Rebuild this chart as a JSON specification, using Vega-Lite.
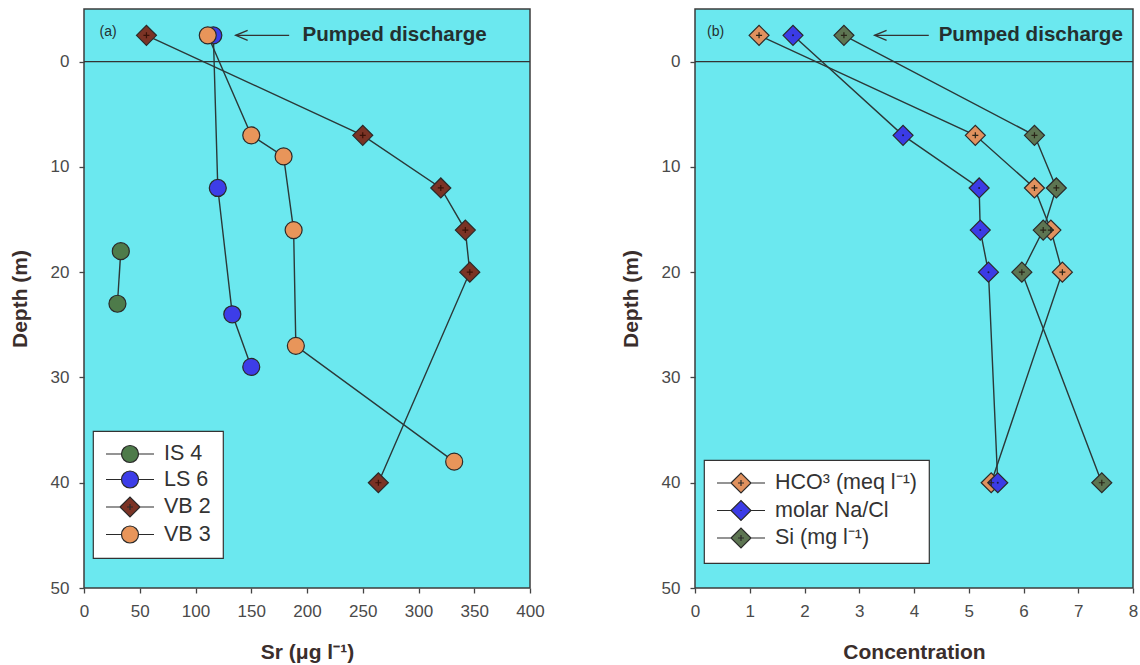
{
  "$schema": "https://vega.github.io/schema/vega-lite/v6.json",
  "background": "white",
  "padding": {"left": 8, "top": 8, "right": 4, "bottom": 4},
  "spacing": 74,
  "resolve": {"scale": {"color": "independent", "shape": "independent", "x": "independent", "y": "independent"}, "legend": {"color": "independent", "shape": "independent"}},
  "config": {
    "font": "Liberation Sans",
    "view": {"fill": "#6be8ef", "stroke": "#3c3c3c", "strokeWidth": 1.5},
    "axis": {
      "grid": false, "domain": false,
      "tickColor": "#444", "tickSize": 5, "tickWidth": 1.3,
      "labelFont": "Liberation Sans", "labelFontSize": 17, "labelColor": "#4a4a4a",
      "titleFont": "Liberation Sans", "titleFontSize": 21, "titleFontWeight": "bold", "titleColor": "#3a2e2c"
    },
    "axisX": {"labelPadding": 10, "titlePadding": 22, "labelFlush": false},
    "axisY": {"labelPadding": 10, "titlePadding": 20},
    "legend": {
      "fillColor": "white", "strokeColor": "#333", "strokeWidth": 1.2, "padding": 12,
      "symbolSize": 400, "symbolOffset": 14, "labelOffset": 23,
      "labelFont": "Liberation Sans", "labelFontSize": 21.5, "labelColor": "#333",
      "symbolStrokeWidth": 1.2, "symbolStrokeColor": "#2a2a2a"
    }
  },
  "datasets": {
    "a": [
      {"series": "IS 4", "value": 33, "depth": 18},
      {"series": "IS 4", "value": 30, "depth": 23},
      {"series": "LS 6", "value": 116, "depth": -2.5},
      {"series": "LS 6", "value": 120, "depth": 12},
      {"series": "LS 6", "value": 133, "depth": 24},
      {"series": "LS 6", "value": 150, "depth": 29},
      {"series": "VB 2", "value": 56, "depth": -2.5},
      {"series": "VB 2", "value": 250, "depth": 7},
      {"series": "VB 2", "value": 320, "depth": 12},
      {"series": "VB 2", "value": 342, "depth": 16},
      {"series": "VB 2", "value": 346, "depth": 20},
      {"series": "VB 2", "value": 264, "depth": 40},
      {"series": "VB 3", "value": 111, "depth": -2.5},
      {"series": "VB 3", "value": 150, "depth": 7},
      {"series": "VB 3", "value": 179, "depth": 9},
      {"series": "VB 3", "value": 188, "depth": 16},
      {"series": "VB 3", "value": 190, "depth": 27},
      {"series": "VB 3", "value": 332, "depth": 38}
    ],
    "b": [
      {"series": "HCO³ (meq l⁻¹)", "value": 1.17, "depth": -2.5},
      {"series": "HCO³ (meq l⁻¹)", "value": 5.12, "depth": 7},
      {"series": "HCO³ (meq l⁻¹)", "value": 6.2, "depth": 12},
      {"series": "HCO³ (meq l⁻¹)", "value": 6.5, "depth": 16},
      {"series": "HCO³ (meq l⁻¹)", "value": 6.71, "depth": 20},
      {"series": "HCO³ (meq l⁻¹)", "value": 5.41, "depth": 40},
      {"series": "molar Na/Cl", "value": 1.79, "depth": -2.5},
      {"series": "molar Na/Cl", "value": 3.8, "depth": 7},
      {"series": "molar Na/Cl", "value": 5.19, "depth": 12},
      {"series": "molar Na/Cl", "value": 5.21, "depth": 16},
      {"series": "molar Na/Cl", "value": 5.36, "depth": 20},
      {"series": "molar Na/Cl", "value": 5.53, "depth": 40},
      {"series": "Si (mg l⁻¹)", "value": 2.72, "depth": -2.5},
      {"series": "Si (mg l⁻¹)", "value": 6.2, "depth": 7},
      {"series": "Si (mg l⁻¹)", "value": 6.6, "depth": 12},
      {"series": "Si (mg l⁻¹)", "value": 6.36, "depth": 16},
      {"series": "Si (mg l⁻¹)", "value": 5.97, "depth": 20},
      {"series": "Si (mg l⁻¹)", "value": 7.43, "depth": 40}
    ]
  },
  "hconcat": [
    {
      "width": 446, "height": 579,
      "resolve": {"scale": {"color": "independent", "shape": "independent"}, "legend": {"color": "independent", "shape": "independent"}},
      "layer": [
        {
          "data": {"values": [{"depth": 0}]},
          "mark": {"type": "rule", "color": "#333", "strokeWidth": 1.3},
          "encoding": {
            "y": {"field": "depth", "type": "quantitative", "scale": {"domain": [-5, 50], "reverse": true, "nice": false, "zero": false}, "axis": {"values": [0, 10, 20, 30, 40, 50], "title": "Depth (m)"}}
          }
        },
        {
          "data": {"name": "a"},
          "mark": {"type": "line", "color": "#2b3838", "strokeWidth": 1.4},
          "encoding": {
            "x": {"field": "value", "type": "quantitative", "scale": {"domain": [0, 400], "nice": false, "zero": false}, "axis": {"values": [0, 50, 100, 150, 200, 250, 300, 350, 400], "title": "Sr (μg l⁻¹)"}},
            "y": {"field": "depth", "type": "quantitative"},
            "detail": {"field": "series"},
            "order": {"field": "depth", "type": "quantitative"}
          }
        },
        {
          "data": {"name": "a"},
          "mark": {"type": "point", "filled": true, "opacity": 1, "size": 400, "stroke": "#2a2a2a", "strokeWidth": 1.2},
          "encoding": {
            "x": {"field": "value", "type": "quantitative"},
            "y": {"field": "depth", "type": "quantitative"},
            "color": {
              "field": "series", "type": "nominal",
              "scale": {"domain": ["IS 4", "LS 6", "VB 2", "VB 3"], "range": ["#4e7b4a", "#3d3de8", "#7b3325", "#e8955a"]},
              "legend": null
            },
            "shape": {
              "field": "series", "type": "nominal",
              "scale": {"domain": ["IS 4", "LS 6", "VB 2", "VB 3"], "range": ["M0.85,0A0.85,0.85 0 1,1 -0.85,0A0.85,0.85 0 1,1 0.85,0Z", "M0.85,0A0.85,0.85 0 1,1 -0.85,0A0.85,0.85 0 1,1 0.85,0Z", "diamond", "M0.85,0A0.85,0.85 0 1,1 -0.85,0A0.85,0.85 0 1,1 0.85,0Z"]},
              "legend": null
            }
          }
        },
        {
          "data": {"name": "a"},
          "transform": [{"filter": "datum.depth > 1000"}],
          "mark": {"type": "point", "filled": true, "opacity": 1, "size": 400, "stroke": "#2a2a2a", "strokeWidth": 1.2},
          "encoding": {
            "x": {"field": "value", "type": "quantitative"},
            "y": {"field": "depth", "type": "quantitative"},
            "color": {
              "field": "series", "type": "nominal",
              "scale": {"domain": ["IS 4", "LS 6", "VB 2", "VB 3"], "range": ["#4e7b4a", "#3d3de8", "#7b3325", "#e8955a"]},
              "legend": {"orient": "none", "legendX": 9, "legendY": 422, "title": null, "rowPadding": 3.5}
            },
            "shape": {
              "field": "series", "type": "nominal",
              "scale": {"domain": ["IS 4", "LS 6", "VB 2", "VB 3"], "range": [
                "M-2.4,0L-0.85,0M0.85,0L2.4,0M0.85,0A0.85,0.85 0 1,1 -0.85,0A0.85,0.85 0 1,1 0.85,0Z",
                "M-2.4,0L-0.85,0M0.85,0L2.4,0M0.85,0A0.85,0.85 0 1,1 -0.85,0A0.85,0.85 0 1,1 0.85,0Z",
                "M-2.4,0L-1,0M1,0L2.4,0M-1,0L0,-1L1,0L0,1ZM-0.3,0L0.3,0M0,-0.3L0,0.3",
                "M-2.4,0L-0.85,0M0.85,0L2.4,0M0.85,0A0.85,0.85 0 1,1 -0.85,0A0.85,0.85 0 1,1 0.85,0Z"
              ]},
              "legend": {"orient": "none", "legendX": 9, "legendY": 422, "title": null, "rowPadding": 3.5}
            }
          }
        },
        {
          "data": {"name": "a"},
          "transform": [{"filter": "datum.series === 'VB 2'"}],
          "mark": {"type": "point", "shape": "M-1,0L1,0M0,-1L0,1", "size": 36, "filled": false, "stroke": "#3a1208", "strokeWidth": 1.2, "opacity": 1},
          "encoding": {
            "x": {"field": "value", "type": "quantitative"},
            "y": {"field": "depth", "type": "quantitative"}
          }
        },
        {
          "data": {"values": [{"tip": 136, "tail": 184, "depth": -2.5}]},
          "mark": {"type": "rule", "color": "#333", "strokeWidth": 1.3},
          "encoding": {
            "x": {"field": "tip", "type": "quantitative"},
            "x2": {"field": "tail"},
            "y": {"field": "depth", "type": "quantitative"}
          }
        },
        {
          "data": {"values": [{"tip": 136, "depth": -2.5}]},
          "mark": {"type": "point", "shape": "M3,-1.25L0,0L3,1.25", "size": 64, "filled": false, "stroke": "#333", "strokeWidth": 1.3, "opacity": 1},
          "encoding": {
            "x": {"field": "tip", "type": "quantitative"},
            "y": {"field": "depth", "type": "quantitative"}
          }
        },
        {
          "data": {"values": [{"value": 196, "depth": -2.5, "label": "Pumped discharge"}]},
          "mark": {"type": "text", "align": "left", "baseline": "middle", "font": "Liberation Sans", "fontSize": 20.6, "fontWeight": "bold", "color": "#243030"},
          "encoding": {
            "x": {"field": "value", "type": "quantitative"},
            "y": {"field": "depth", "type": "quantitative"},
            "text": {"field": "label"}
          }
        },
        {
          "data": {"values": [{"value": 14, "depth": -2.85, "label": "(a)"}]},
          "mark": {"type": "text", "align": "left", "baseline": "middle", "font": "Liberation Sans", "fontSize": 14, "color": "#243030"},
          "encoding": {
            "x": {"field": "value", "type": "quantitative"},
            "y": {"field": "depth", "type": "quantitative"},
            "text": {"field": "label"}
          }
        }
      ]
    },
    {
      "width": 438, "height": 579,
      "resolve": {"scale": {"color": "independent", "shape": "independent"}, "legend": {"color": "independent", "shape": "independent"}},
      "layer": [
        {
          "data": {"values": [{"depth": 0}]},
          "mark": {"type": "rule", "color": "#333", "strokeWidth": 1.3},
          "encoding": {
            "y": {"field": "depth", "type": "quantitative", "scale": {"domain": [-5, 50], "reverse": true, "nice": false, "zero": false}, "axis": {"values": [0, 10, 20, 30, 40, 50], "title": "Depth (m)"}}
          }
        },
        {
          "data": {"name": "b"},
          "mark": {"type": "line", "color": "#2b3838", "strokeWidth": 1.4},
          "encoding": {
            "x": {"field": "value", "type": "quantitative", "scale": {"domain": [0, 8], "nice": false, "zero": false}, "axis": {"values": [0, 1, 2, 3, 4, 5, 6, 7, 8], "title": "Concentration"}},
            "y": {"field": "depth", "type": "quantitative"},
            "detail": {"field": "series"},
            "order": {"field": "depth", "type": "quantitative"}
          }
        },
        {
          "data": {"name": "b"},
          "mark": {"type": "point", "filled": true, "opacity": 1, "size": 400, "stroke": "#2a2a2a", "strokeWidth": 1.2, "shape": "diamond"},
          "encoding": {
            "x": {"field": "value", "type": "quantitative"},
            "y": {"field": "depth", "type": "quantitative"},
            "color": {
              "field": "series", "type": "nominal",
              "scale": {"domain": ["HCO³ (meq l⁻¹)", "molar Na/Cl", "Si (mg l⁻¹)"], "range": ["#e0915e", "#3b3be6", "#5d7552"]},
              "legend": null
            }
          }
        },
        {
          "data": {"name": "b"},
          "transform": [{"filter": "datum.depth > 1000"}],
          "mark": {"type": "point", "filled": true, "opacity": 1, "size": 400, "stroke": "#2a2a2a", "strokeWidth": 1.2},
          "encoding": {
            "x": {"field": "value", "type": "quantitative"},
            "y": {"field": "depth", "type": "quantitative"},
            "color": {
              "field": "series", "type": "nominal",
              "scale": {"domain": ["HCO³ (meq l⁻¹)", "molar Na/Cl", "Si (mg l⁻¹)"], "range": ["#e0915e", "#3b3be6", "#5d7552"]},
              "legend": {"orient": "none", "legendX": 9, "legendY": 451, "title": null, "rowPadding": 1.5}
            },
            "shape": {
              "field": "series", "type": "nominal",
              "scale": {"domain": ["HCO³ (meq l⁻¹)", "molar Na/Cl", "Si (mg l⁻¹)"], "range": [
                "M-2.4,0L-1,0M1,0L2.4,0M-1,0L0,-1L1,0L0,1ZM-0.3,0L0.3,0M0,-0.3L0,0.3",
                "M-2.4,0L-1,0M1,0L2.4,0M-1,0L0,-1L1,0L0,1ZM-0.06,0L0.06,0",
                "M-2.4,0L-1,0M1,0L2.4,0M-1,0L0,-1L1,0L0,1ZM-0.3,0L0.3,0M0,-0.3L0,0.3"
              ]},
              "legend": {"orient": "none", "legendX": 9, "legendY": 451, "title": null, "rowPadding": 1.5}
            }
          }
        },
        {
          "data": {"name": "b"},
          "transform": [{"filter": "datum.series !== 'molar Na/Cl'"}],
          "mark": {"type": "point", "shape": "M-1,0L1,0M0,-1L0,1", "size": 36, "filled": false, "stroke": "#2a2418", "strokeWidth": 1.2, "opacity": 1},
          "encoding": {
            "x": {"field": "value", "type": "quantitative"},
            "y": {"field": "depth", "type": "quantitative"}
          }
        },
        {
          "data": {"name": "b"},
          "transform": [{"filter": "datum.series === 'molar Na/Cl'"}],
          "mark": {"type": "point", "shape": "circle", "size": 4, "filled": true, "color": "#1a1a40", "opacity": 1},
          "encoding": {
            "x": {"field": "value", "type": "quantitative"},
            "y": {"field": "depth", "type": "quantitative"}
          }
        },
        {
          "data": {"values": [{"tip": 3.28, "tail": 4.27, "depth": -2.5}]},
          "mark": {"type": "rule", "color": "#333", "strokeWidth": 1.3},
          "encoding": {
            "x": {"field": "tip", "type": "quantitative"},
            "x2": {"field": "tail"},
            "y": {"field": "depth", "type": "quantitative"}
          }
        },
        {
          "data": {"values": [{"tip": 3.28, "depth": -2.5}]},
          "mark": {"type": "point", "shape": "M3,-1.25L0,0L3,1.25", "size": 64, "filled": false, "stroke": "#333", "strokeWidth": 1.3, "opacity": 1},
          "encoding": {
            "x": {"field": "tip", "type": "quantitative"},
            "y": {"field": "depth", "type": "quantitative"}
          }
        },
        {
          "data": {"values": [{"value": 4.45, "depth": -2.5, "label": "Pumped discharge"}]},
          "mark": {"type": "text", "align": "left", "baseline": "middle", "font": "Liberation Sans", "fontSize": 20.6, "fontWeight": "bold", "color": "#243030"},
          "encoding": {
            "x": {"field": "value", "type": "quantitative"},
            "y": {"field": "depth", "type": "quantitative"},
            "text": {"field": "label"}
          }
        },
        {
          "data": {"values": [{"value": 0.22, "depth": -2.85, "label": "(b)"}]},
          "mark": {"type": "text", "align": "left", "baseline": "middle", "font": "Liberation Sans", "fontSize": 14, "color": "#243030"},
          "encoding": {
            "x": {"field": "value", "type": "quantitative"},
            "y": {"field": "depth", "type": "quantitative"},
            "text": {"field": "label"}
          }
        }
      ]
    }
  ]
}
